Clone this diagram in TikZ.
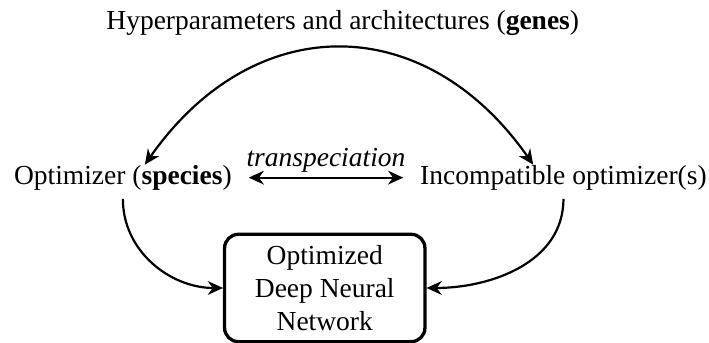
\documentclass[tikz,border=0pt]{standalone}
\usepackage{fontspec}
\setmainfont{Liberation Serif}
\usetikzlibrary{arrows.meta,positioning}

\begin{document}
\begin{tikzpicture}
  % Estilos
  \tikzstyle{term}=[inner sep=0pt, align=center]
  \tikzstyle{result}=[rectangle, draw, very thick, rounded corners=5pt, minimum width=2.56cm, inner sep=4pt, align=center]
  \tikzstyle{link}=[-{Stealth[length=5.5pt, width=5pt, inset=1.8pt]}, thick]
  \tikzstyle{twoway}=[{Stealth[length=5.5pt, width=5pt, inset=1.8pt]}-{Stealth[length=5.5pt, width=5pt, inset=1.8pt]}, thick]

  \useasboundingbox (0,0) rectangle (9.06,4.38);

  % Genes
  \node[term] (genes) at (4.38,4.08) {Hyperparameters and architectures (\textbf{genes})};

  % Optimizadores
  \node[term] (opt) at (1.57,2.11) {Optimizer (\textbf{species})};
  \node[term] (inc) at (7.20,2.11) {Incompatible optimizer(s)};

  % Red resultante
  \node[result] (dnn) at (4.15,0.70) {Optimized\\Deep Neural\\Network};

  % Genes compartidos
  \draw[twoway] ([xshift=8pt]opt.north) to[out=55, in=125, looseness=1.25] ([xshift=-11pt]inc.north);

  % Transespeciacion
  \draw[twoway] ([xshift=6pt]opt.east) -- node[above, inner sep=1.5pt, font=\itshape] {transpeciation} ([xshift=-6pt]inc.west);

  % Hacia la red
  \draw[link] ([yshift=-3pt]opt.south) to[out=-90, in=180] (dnn.west);
  \draw[link] ([yshift=-3pt]inc.south) to[out=-90, in=0] (dnn.east);
\end{tikzpicture}
\end{document}
